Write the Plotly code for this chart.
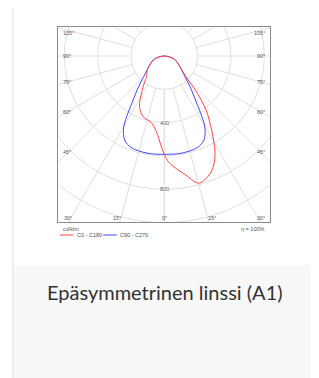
import numpy as np
import plotly.graph_objects as go

# page body has an 8px margin; the figure is placed at (8, 8)
OX, OY = 8, 8
W, H = 319 - OX, 378 - OY

# ---- data (cd/klm) ----
GAMMA = [0, 2.5, 5, 7.5, 10, 12.5, 15, 17.5, 20, 22.5, 25, 27.5, 30, 32.5, 35,
         37.5, 40, 42.5, 45, 50, 55, 60, 65, 70, 75, 80, 85, 90]
C0 = [590, 640, 668, 695, 722, 760, 790, 785, 768, 745, 708, 660, 595, 530, 470,
      415, 345, 270, 200, 145, 117, 97, 83, 70, 52, 33, 15, 0]
C180 = [590, 528, 472, 438, 414, 402, 396, 391, 382, 368, 348, 322, 284, 250, 219,
        191, 168, 156, 148, 134, 115, 97, 83, 70, 52, 33, 15, 0]
C90 = [590, 590, 591, 592, 592, 591, 590, 588, 584, 575, 560, 530, 485, 405, 330,
       280, 240, 205, 175, 140, 115, 97, 83, 70, 52, 33, 15, 0]
C270 = C90

GRID_RADII = [200, 400, 600, 800, 1000, 1200]
SPOKE_ANGLES = list(range(0, 181, 15))
RADIUS_LABELS = [400, 800]
ANGLE_LABELS_SIDE = ["105°", "90°", "75°", "60°", "45°"]
ANGLE_LABELS_BOTTOM = ["30°", "15°", "0°", "15°", "30°"]
SERIES_NAMES = ["C0 - C180", "C90 - C270"]
UNIT = "cd/klm"
ETA = "η = 100%"
TITLE = "Epäsymmetrinen linssi (A1)"

RED = "#ff4545"
BLUE = "#4545ff"
GRID = "#dedede"


def curve(left, right):
    g = np.radians(np.array(GAMMA, dtype=float))
    l = np.array(left, dtype=float)
    r = np.array(right, dtype=float)
    xl, yl = -l * np.sin(g), -l * np.cos(g)
    xr, yr = r * np.sin(g), -r * np.cos(g)
    x = np.concatenate([xl[::-1], xr[1:]])
    y = np.concatenate([yl[::-1], yr[1:]])
    return x, y


fig = go.Figure()

# grid circles
t = np.linspace(0, 2 * np.pi, 361)
cx, cy = [], []
for rr in GRID_RADII:
    cx += list(rr * np.cos(t)) + [None]
    cy += list(rr * np.sin(t)) + [None]
fig.add_trace(go.Scatter(x=cx, y=cy, mode="lines", line=dict(color=GRID, width=1),
                         hoverinfo="skip", showlegend=False))
# spokes
sx, sy = [], []
for a in SPOKE_ANGLES:
    for s in (-1, 1):
        ar = np.radians(a)
        sx += [s * 200 * np.sin(ar), s * 1400 * np.sin(ar), None]
        sy += [-200 * np.cos(ar), -1400 * np.cos(ar), None]
fig.add_trace(go.Scatter(x=sx, y=sy, mode="lines", line=dict(color=GRID, width=1),
                         hoverinfo="skip", showlegend=False))

bx, by = curve(C270, C90)
fig.add_trace(go.Scatter(x=bx, y=by, mode="lines", line=dict(color=BLUE, width=1),
                         line_shape="spline", showlegend=False))
rx, ry = curve(C180, C0)
fig.add_trace(go.Scatter(x=rx, y=ry, mode="lines", line=dict(color=RED, width=1),
                         line_shape="spline", showlegend=False))

# plot box (page pixels)
L, R, T, B = 58.3, 270.0, 27.3, 222.3
CXP, CYP = 164.3, 56.0
S = 6.0  # cd/klm per pixel
xr_ = [(L - CXP) * S, (R - CXP) * S]
yr_ = [-(B - CYP) * S, -(T - CYP) * S]


def P(x, y):
    return (x - OX) / W, 1 - (y - OY) / H


ax = dict(showgrid=False, zeroline=False, showticklabels=False, ticks="",
          showline=True, mirror=True, linecolor="#8a8a8a", linewidth=1, fixedrange=True)
fig.update_layout(
    width=W, height=H, margin=dict(l=0, r=0, t=0, b=0), autosize=False,
    paper_bgcolor="white", plot_bgcolor="white",
    xaxis=dict(domain=[P(L, 0)[0], P(R, 0)[0]], range=xr_, **ax),
    yaxis=dict(domain=[P(0, B)[1], P(0, T)[1]], range=yr_, **ax),
    showlegend=False,
)

small = dict(family="Liberation Sans", size=5.5, color="#555555")
anns = []


def ann(text, x, y, xanchor="center", font=small, **kw):
    px, py = P(x, y)
    anns.append(dict(text=text, x=px, y=py, xref="paper", yref="paper", xanchor=xanchor,
                     yanchor="middle", showarrow=False, font=font, **kw))


side_y = [33.3, 56.0, 81.7, 111.7, 152.3]
for lab, yy in zip(ANGLE_LABELS_SIDE, side_y):
    ann(lab, 61.0, yy, "left")
    ann(lab, 267.0, yy, "right")
bottom_x = [(61.5, "left"), (116.7, "center"), (164.3, "center"), (211.5, "center"), (267.0, "right")]
for lab, (xx, xa) in zip(ANGLE_LABELS_BOTTOM, bottom_x):
    ann(lab, xx, 217.7, xa)

for rl in RADIUS_LABELS:
    anns.append(dict(text=str(rl), x=0, y=-rl, xref="x", yref="y", showarrow=False,
                     font=small, bgcolor="white", borderpad=0))

ann(UNIT, 61.0, 228.5, "left")
ann(ETA, 267.0, 228.5, "right")
ann(SERIES_NAMES[0], 74.5, 235.0, "left")
ann(SERIES_NAMES[1], 118.0, 235.0, "left")

ann(TITLE, 164.5, 292.0, "center",
    font=dict(family="Lato", size=20, color="#333333"))


def rect(x0, x1, y0, y1, **kw):
    a, b = P(x0, y1)
    c, d = P(x1, y0)
    return dict(type="rect", xref="paper", yref="paper", x0=a, x1=c, y0=b, y1=d, **kw)


def hline(x0, x1, y, color):
    a, b = P(x0, y)
    c, _ = P(x1, y)
    return dict(type="line", xref="paper", yref="paper", x0=a, x1=c, y0=b, y1=b,
                line=dict(color=color, width=1))


shapes = [
    rect(13.5, 315, 265, 385, fillcolor="#f8f8f8", line=dict(width=0), layer="below"),
    rect(12.8, 315.8, 4.8, 395, fillcolor="rgba(0,0,0,0)",
         line=dict(color="#e8edf1", width=1.6), layer="below"),
    hline(60, 73.3, 235, RED),
    hline(103.3, 116.7, 235, BLUE),
]
fig.update_layout(annotations=anns, shapes=shapes)

fig.write_html("out.html", config={"displayModeBar": False})
